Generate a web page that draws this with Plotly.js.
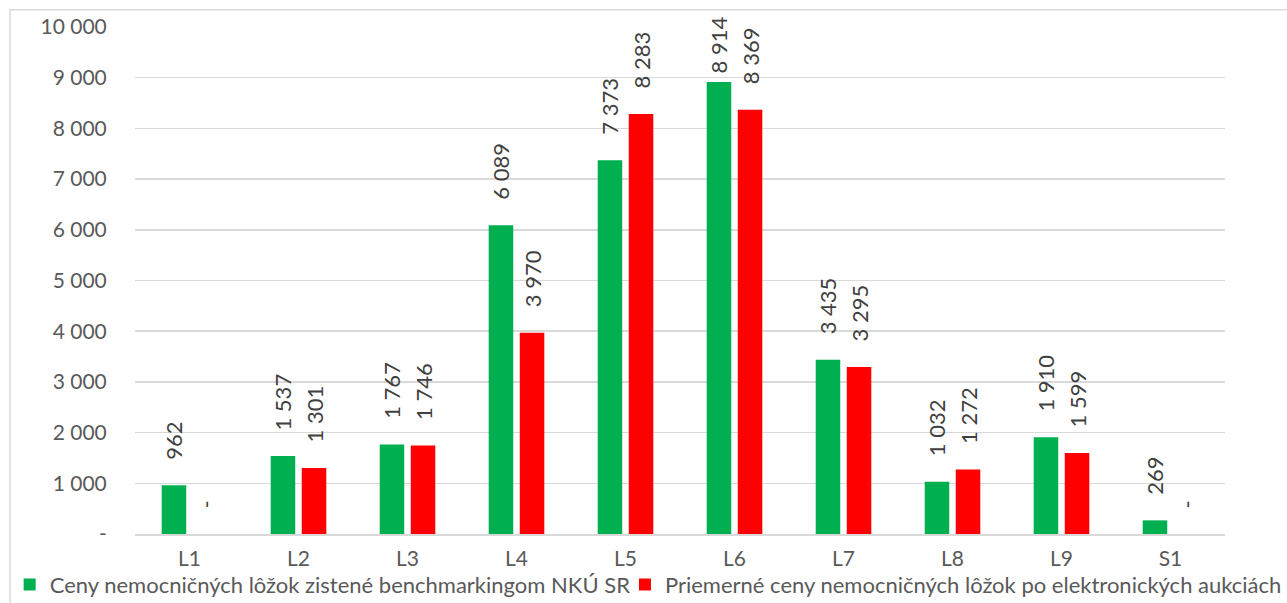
<!DOCTYPE html>
<html>
<head>
<meta charset="utf-8">
<script src="https://cdn.plot.ly/plotly-3.0.1.min.js"></script>
<style>html,body{margin:0;padding:0;background:#fff;}#chart{width:1287px;height:603px;}</style>
</head>
<body>
<div id="chart"></div>
<script>
const categories = ["L1","L2","L3","L4","L5","L6","L7","L8","L9","S1"];
const benchmarkValues = [962,1537,1767,6089,7373,8914,3435,1032,1910,269];
const auctionValues = [0,1301,1746,3970,8283,8369,3295,1272,1599,0];
const yTickVals = [0,1000,2000,3000,4000,5000,6000,7000,8000,9000,10000];
const yTickText = ["-","1 000","2 000","3 000","4 000","5 000","6 000","7 000","8 000","9 000","10 000"];
const seriesNames = ["Ceny nemocničných lôžok zistené benchmarkingom NKÚ SR","Priemerné ceny nemocničných lôžok po elektronických aukciách"];

const Y_MAX = 10000;
// label padding: labels that would run past the chart edge sit closer to the bar
function pad(v){
  const n = (Y_MAX - v) < 1300 ? 1 : 4;
  return "\u00a0".repeat(n);
}
function fmt(v){
  if (v === 0) return pad(v) + "-";
  return pad(v) + String(v).replace(/\B(?=(\d{3})+(?!\d))/g, " ");
}
const FONT = "Lato, 'Open Sans', sans-serif";
const TXT = "#595959";

function barTrace(vals, name, color, legendId){
  return {
    type: "bar", x: categories, y: vals, name: name, legend: legendId,
    marker: {color: color},
    text: vals.map(fmt), textposition: "outside", textangle: -90,
    textfont: {family: FONT, size: 22, color: "#404040"},
    cliponaxis: false, constraintext: "none", hoverinfo: "skip"
  };
}

const data = [
  barTrace(benchmarkValues, seriesNames[0], "#00B050", "legend"),
  barTrace(auctionValues, seriesNames[1], "#FF0000", "legend2")
];

const legendBase = {orientation: "h", xanchor: "left", y: -0.1, yanchor: "middle",
  font: {family: FONT, size: 22, color: TXT}, bgcolor: "rgba(0,0,0,0)"};

const layout = {
  width: 1287, height: 603,
  margin: {l: 135, r: 62, t: 27, b: 69, autoexpand: false},
  paper_bgcolor: "#fff", plot_bgcolor: "#fff",
  font: {family: FONT, color: TXT},
  barmode: "group", bargap: 0.43, bargroupgap: 0.21,
  showlegend: true,
  legend: Object.assign({}, legendBase, {x: -0.115}),
  legend2: Object.assign({}, legendBase, {x: 0.4495}),
  xaxis: {type: "category", showgrid: false, showline: true, linecolor: "#d9d9d9", linewidth: 1.5,
          ticks: "outside", ticklen: 5, tickcolor: "rgba(0,0,0,0)",
          tickfont: {family: FONT, size: 21, color: TXT}, fixedrange: true},
  yaxis: {range: [0, Y_MAX], tickvals: yTickVals, ticktext: yTickText, showgrid: true,
          gridcolor: "#d9d9d9", gridwidth: 1.5, zeroline: false, showline: false,
          ticks: "outside", ticklen: 23, tickcolor: "rgba(0,0,0,0)",
          tickfont: {family: FONT, size: 21, color: TXT}, fixedrange: true},
  shapes: [{type: "rect", xref: "paper", yref: "paper", x0: -0.1147, x1: 1.2, y0: -0.3, y1: 1.0341,
            line: {color: "#d9d9d9", width: 1.5}, fillcolor: "rgba(0,0,0,0)", layer: "below"}]
};

Plotly.newPlot("chart", data, layout, {displayModeBar: false, staticPlot: true});
</script>
</body>
</html>
